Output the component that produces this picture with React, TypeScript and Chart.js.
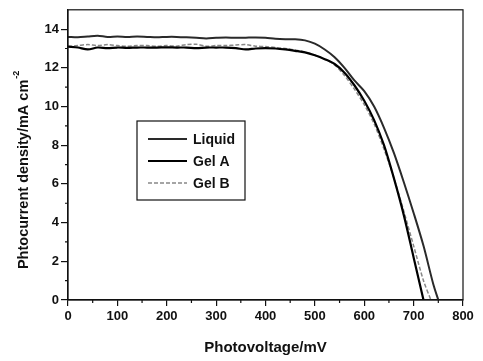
import React, { useEffect, useRef } from "react";
import { Chart, registerables } from "chart.js";

Chart.register(...registerables);

const voltageLiquid = [0, 20, 40, 60, 80, 100, 120, 140, 160, 180, 200, 220, 240, 260, 280, 300, 320, 340, 360, 380, 400, 420, 440, 460, 480, 500, 520, 540, 560, 580, 600, 620, 640, 660, 680, 700, 720, 740, 750];
const currentLiquid = [13.6, 13.58, 13.62, 13.66, 13.6, 13.62, 13.6, 13.62, 13.6, 13.58, 13.6, 13.6, 13.58, 13.55, 13.52, 13.55, 13.57, 13.55, 13.56, 13.57, 13.55, 13.5, 13.48, 13.48, 13.42, 13.25, 12.95, 12.55, 12.0, 11.35, 10.8, 10.0, 8.9, 7.6, 6.1, 4.5, 2.8, 0.8, 0];

const voltageGelA = [0, 20, 40, 60, 80, 100, 120, 140, 160, 180, 200, 220, 240, 260, 280, 300, 320, 340, 360, 380, 400, 420, 440, 460, 480, 500, 520, 540, 560, 580, 600, 620, 640, 660, 680, 700, 720];
const currentGelA = [13.1, 13.05, 12.95, 13.05, 13.02, 13.05, 13.03, 13.05, 13.05, 13.05, 13.06, 13.05, 13.05, 13.02, 13.05, 13.05, 13.05, 13.02, 12.95, 13.0, 13.02, 13.0, 12.95, 12.88, 12.8, 12.65, 12.45, 12.2, 11.75, 11.1, 10.3, 9.3, 8.0, 6.3, 4.4, 2.2, 0];

const voltageGelB = [0, 20, 40, 60, 80, 100, 120, 140, 160, 180, 200, 220, 240, 260, 280, 300, 320, 340, 360, 380, 400, 420, 440, 460, 480, 500, 520, 540, 560, 580, 600, 620, 640, 660, 680, 700, 720, 735];
const currentGelB = [13.1, 13.15, 13.2, 13.15, 13.2, 13.15, 13.12, 13.15, 13.15, 13.12, 13.15, 13.12, 13.2, 13.22, 13.12, 13.15, 13.15, 13.18, 13.2, 13.12, 13.1, 13.05, 13.0, 12.92, 12.82, 12.65, 12.45, 12.15, 11.6, 10.9, 10.1, 9.1, 7.8, 6.3, 4.6, 2.8, 1.0, 0];

const seriesNames = ["Liquid", "Gel A", "Gel B"];
const xTitle = "Photovoltage/mV";
const yTitleMain = "Phtocurrent density/mA cm";
const yTitleSup = "-2";

const toPoints = (xs: number[], ys: number[]) => xs.map((x, i) => ({ x, y: ys[i] }));

const FONT = "Arial, 'Liberation Sans', sans-serif";

const decorPlugin = {
  id: "decor",
  afterDraw(chart: any) {
    const ctx = chart.ctx;
    const area = chart.chartArea;
    const xs = chart.scales.x;
    const ys = chart.scales.y;
    ctx.save();
    ctx.strokeStyle = "#111";
    ctx.lineWidth = 1.2;
    ctx.strokeRect(area.left, area.top, area.right - area.left, area.bottom - area.top);
    ctx.beginPath();
    for (let v = 50; v < 800; v += 100) {
      const p = xs.getPixelForValue(v);
      ctx.moveTo(p, area.bottom);
      ctx.lineTo(p, area.bottom + 3);
    }
    for (let v = 1; v < 15; v += 2) {
      const p = ys.getPixelForValue(v);
      ctx.moveTo(area.left, p);
      ctx.lineTo(area.left - 3, p);
    }
    ctx.stroke();

    // y title
    ctx.save();
    ctx.translate(24, (area.top + area.bottom) / 2 + 15);
    ctx.rotate(-Math.PI / 2);
    ctx.fillStyle = "#111";
    ctx.textBaseline = "middle";
    ctx.font = `bold 14.5px ${FONT}`;
    const mainW = ctx.measureText(yTitleMain).width;
    ctx.font = `bold 9px ${FONT}`;
    const supW = ctx.measureText(yTitleSup).width;
    const total = mainW + supW + 1;
    ctx.textAlign = "left";
    ctx.font = `bold 14.5px ${FONT}`;
    ctx.fillText(yTitleMain, -total / 2, 0);
    ctx.font = `bold 9px ${FONT}`;
    ctx.fillText(yTitleSup, -total / 2 + mainW + 1, -7);
    ctx.restore();

    // legend box
    const lx = 137, ly = 121, lw = 108, lh = 79;
    ctx.fillStyle = "#fff";
    ctx.fillRect(lx, ly, lw, lh);
    ctx.lineWidth = 1.2;
    ctx.strokeRect(lx, ly, lw, lh);
    const dsets = chart.data.datasets;
    ctx.font = `bold 14px ${FONT}`;
    ctx.textBaseline = "middle";
    ctx.textAlign = "left";
    for (let i = 0; i < dsets.length; i++) {
      const ds = dsets[i];
      const yy = ly + 18 + i * 22;
      ctx.beginPath();
      ctx.strokeStyle = ds.borderColor;
      ctx.lineWidth = ds.borderWidth;
      ctx.setLineDash(ds.borderDash || []);
      ctx.moveTo(148, yy);
      ctx.lineTo(187, yy);
      ctx.stroke();
      ctx.setLineDash([]);
      ctx.fillStyle = "#111";
      ctx.fillText(seriesNames[i], 193, yy + 1);
    }
    ctx.restore();
  },
};

export default function App() {
  const ref = useRef<HTMLCanvasElement>(null);
  useEffect(() => {
    if (!ref.current) return;
    const chart = new Chart(ref.current, {
      type: "line",
      data: {
        datasets: [
          {
            label: seriesNames[0],
            data: toPoints(voltageLiquid, currentLiquid),
            borderColor: "#2a2a2a",
            borderWidth: 2,
            pointRadius: 0,
            tension: 0.3,
          },
          {
            label: seriesNames[1],
            data: toPoints(voltageGelA, currentGelA),
            borderColor: "#000",
            borderWidth: 2.2,
            pointRadius: 0,
            tension: 0.3,
          },
          {
            label: seriesNames[2],
            data: toPoints(voltageGelB, currentGelB),
            borderColor: "#888",
            borderWidth: 1.5,
            borderDash: [4, 2],
            pointRadius: 0,
            tension: 0.3,
          },
        ],
      },
      options: {
        animation: false,
        responsive: false,
        maintainAspectRatio: false,
        layout: { padding: { left: 0, right: 20, top: 7, bottom: 0 } },
        plugins: { legend: { display: false }, tooltip: { enabled: false } },
        scales: {
          x: {
            type: "linear",
            min: 0,
            max: 800,
            ticks: { stepSize: 100, color: "#111", font: { family: FONT, size: 13, weight: "bold" }, padding: 3, maxRotation: 0 },
            grid: { drawOnChartArea: false, tickLength: 6, color: "#111", lineWidth: 1.2 },
            border: { color: "#111", width: 1.2 },
            title: { display: true, text: xTitle, color: "#111", font: { family: FONT, size: 15, weight: "bold" }, padding: { top: 4 } },
            afterFit: (s: any) => { s.height = 61; },
          },
          y: {
            type: "linear",
            min: 0,
            max: 15,
            ticks: { stepSize: 2, color: "#111", font: { family: FONT, size: 13, weight: "bold" }, padding: 2 },
            grid: { drawOnChartArea: false, tickLength: 7, color: "#111", lineWidth: 1.2 },
            border: { color: "#111", width: 1.2 },
            afterBuildTicks: (s: any) => { s.ticks = s.ticks.filter((t: any) => t.value <= 14); },
            afterFit: (s: any) => { s.width = 68; },
          },
        },
      },
      plugins: [decorPlugin],
    });
    return () => chart.destroy();
  }, []);
  return (
    <div style={{ position: "fixed", left: 0, top: 0, width: 483, height: 361, background: "#fff" }}>
      <canvas ref={ref} width={483} height={361} />
    </div>
  );
}
